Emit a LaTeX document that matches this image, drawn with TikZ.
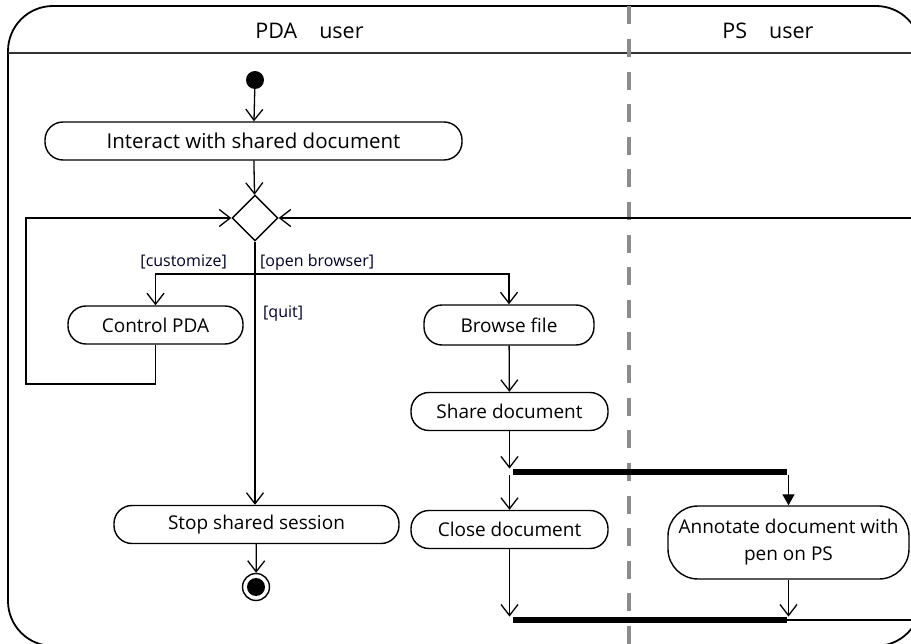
\documentclass[tikz,border=0pt]{standalone}
\usepackage{fontspec}
\setmainfont{Open Sans}
\usetikzlibrary{arrows.meta,shapes.geometric}

\begin{document}
\begin{tikzpicture}[x=1pt,y=-1pt,
  line join=miter,
  actbox/.style={draw, line width=1.4pt, rectangle, rounded corners=18pt,
    minimum height=38pt, inner sep=2pt, align=center,
    font=\fontsize{19}{24}\selectfont},
  guard/.style={font=\fontsize{16}{18}\selectfont, text=black!85!blue, inner sep=0pt},
  flow/.style={line width=1.3pt, -{Straight Barb[length=11pt,width=17pt,line width=1.3pt]}},
  bar/.style={fill=black, draw=none, minimum width=274pt, minimum height=6.5pt, inner sep=0pt},
  lane/.style={font=\fontsize{21.5}{26}\selectfont}
]
\useasboundingbox (0,0) rectangle (911,644);
\clip (0,0) rectangle (911,644);
\fill[white] (0,0) rectangle (911,644);

% swimlane frame and header
\draw[line width=1.8pt, rounded corners=45pt] (8,6) rectangle (921,646);
\draw[line width=1.6pt, black!80] (8,53) -- (921,53);
\draw[line width=3.6pt, black!45, dash pattern=on 18pt off 14.6pt, dash phase=26.1pt] (629,0) -- (629,644);
\node[lane] (laneA) at (309.5,31) {PDA\hspace{22pt}user};
\node[lane] (laneB) at (768,31) {PS\hspace{22pt}user};

% activity nodes
\node[circle, fill=black, minimum size=18pt, inner sep=0pt] (init) at (255,80) {};
\node[actbox, minimum width=417pt, font=\fontsize{20.5}{24}\selectfont] (interact) at (253.5,141) {Interact with shared document};
\node[diamond, draw, line width=1.4pt, minimum width=46pt, minimum height=46pt, inner sep=0pt] (dia) at (255,218) {};
\node[actbox, minimum width=175pt] (ctl) at (155.5,325) {Control PDA};
\node[actbox, minimum width=170pt, minimum height=40pt] (browse) at (509,325) {Browse file};
\node[actbox, minimum width=197pt] (share) at (509.5,411.5) {Share document};
\node[bar] (fork) at (650,472) {};
\node[actbox, minimum width=197pt] (close) at (509.5,529.5) {Close document};
\node[actbox, minimum width=241pt, minimum height=73pt, rounded corners=30pt, font=\fontsize{19}{27}\selectfont] (annot) at (788.5,542.5) {Annotate document with\\pen on PS};
\node[bar] (join) at (650,620) {};
\node[actbox, minimum width=285pt] (stop) at (256.5,524.5) {Stop shared session};
\node[circle, draw, line width=1.4pt, minimum size=27pt, inner sep=0pt] (final) at (256,587) {};
\node[circle, fill=black, minimum size=18pt, inner sep=0pt] (finaldot) at (final.center) {};

% guard labels
\node[guard, anchor=east] (gcust) at (227,262) {[customize]};
\node[guard, anchor=west] (gopen) at (260,262) {[open browser]};
\node[guard, anchor=west] (gquit) at (263,314) {[quit]};

% routing points
\coordinate (br) at (255,274);
\coordinate (lpL) at (26,384);
\coordinate (lpR) at (918,620);

% connectors
\draw[flow] (init) -- (interact);
\draw[flow] (interact) -- (dia);
\draw[flow] (dia.south) -- (dia.south |- stop.north);
\draw[flow] (br) -| (ctl.north);
\draw[flow] (br) -| (browse.north);
\draw[flow] (ctl.south) |- (lpL) |- (dia.west);
\draw[flow] (join.east) -- (lpR) |- (dia.east);
\draw[flow] (browse) -- (share);
\draw[flow] (share.south) -- (share.south |- fork.north);
\draw[flow] (share.south |- fork.south) -- (close.north);
\draw[line width=1.3pt, -{Triangle[length=11pt,width=12pt]}] (annot.north |- fork.south) -- (annot.north);
\draw[flow] (close.south) -- (close.south |- join.north);
\draw[flow] (annot.south) -- (annot.south |- join.north);
\draw[flow] (stop) -- (final);
\end{tikzpicture}
\end{document}
